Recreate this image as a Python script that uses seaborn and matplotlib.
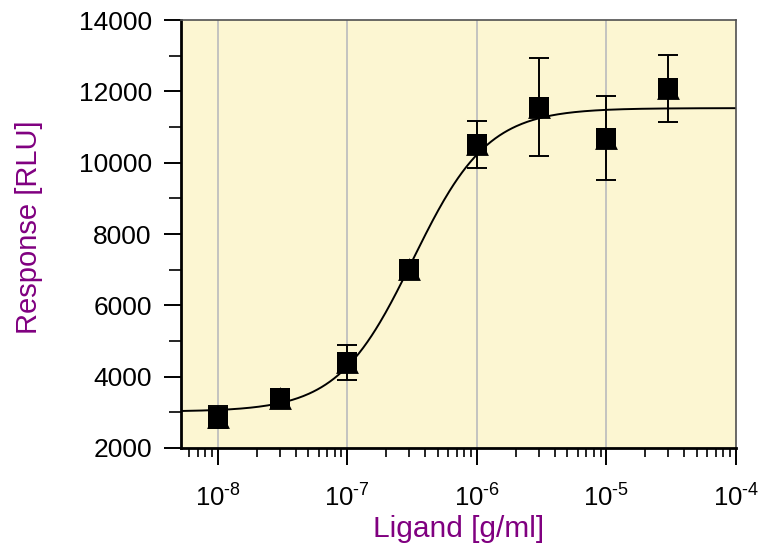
import numpy as np
import pandas as pd
import matplotlib
matplotlib.use("Agg")
import matplotlib.pyplot as plt
import matplotlib.ticker as mticker
import seaborn as sns

# Measured dose-response data
conc = [1e-8, 3e-8, 1e-7, 3e-7, 1e-6, 3e-6, 1e-5, 3e-5]
response_mean = [2880, 3400, 4400, 7020, 10520, 11560, 10690, 12090]
response_sd = [310, 80, 500, 90, 660, 1370, 1180, 940]

# Four-parameter logistic fit
fit_bottom = 3020
fit_top = 11530
fit_ec50 = 3.2e-7
fit_hill = 1.5

x_ticks = [1e-8, 1e-7, 1e-6, 1e-5, 1e-4]
x_tick_labels = ["10$^{\u20108}$", "10$^{\u20107}$", "10$^{\u20106}$",
                 "10$^{\u20105}$", "10$^{\u20104}$"]
y_ticks = [2000, 4000, 6000, 8000, 10000, 12000, 14000]

sns.set_theme(style="white")
plt.rcParams["font.family"] = ["Liberation Sans", "DejaVu Sans"]
plt.rcParams["mathtext.fontset"] = "custom"
plt.rcParams["mathtext.rm"] = "Liberation Sans"
plt.rcParams["mathtext.it"] = "Liberation Sans"
plt.rcParams["mathtext.default"] = "regular"

fig = plt.figure(figsize=(7.58, 5.47), dpi=100)
ax = fig.add_axes([0.2388, 0.181, 0.7322, 0.7824])
ax.set_facecolor("#FCF6D2")

df = pd.DataFrame({"conc": conc, "mean": response_mean, "sd": response_sd})

xs = np.logspace(np.log10(5.2e-9), -4, 400)
ys = fit_bottom + (fit_top - fit_bottom) / (1 + (fit_ec50 / xs) ** fit_hill)
curve = pd.DataFrame({"x": xs, "y": ys})

ax.set_xscale("log")
for xv in x_ticks[:-1]:
    ax.axvline(xv, color="#BFBFBF", lw=1.3, zorder=0)

sns.lineplot(data=curve, x="x", y="y", ax=ax, color="black", lw=1.4, zorder=2)
ax.errorbar(df["conc"], df["mean"], yerr=df["sd"], fmt="none", ecolor="black",
            elinewidth=1.4, capsize=7, capthick=1.4, zorder=3)
sns.scatterplot(data=df, x="conc", y="mean", ax=ax, marker="^", s=270,
                color="black", edgecolor="black", linewidth=0, zorder=4)
sns.scatterplot(data=df, x="conc", y="mean", ax=ax, marker="s", s=220,
                color="black", edgecolor="black", linewidth=0, zorder=5)

ax.set_xlim(5.2e-9, 1e-4)
ax.set_ylim(2000, 14000)
ax.set_xticks(x_ticks)
ax.set_xticklabels(x_tick_labels)
ax.xaxis.set_minor_locator(mticker.LogLocator(base=10, subs=np.arange(2, 10)))
ax.xaxis.set_minor_formatter(mticker.NullFormatter())
ax.set_yticks(y_ticks)
ax.set_yticklabels([str(v) for v in y_ticks])
ax.yaxis.set_minor_locator(mticker.MultipleLocator(1000))

ax.tick_params(axis="x", which="major", direction="out", length=12, width=1.4,
               color="black", labelcolor="black", labelsize=18.5, pad=14,
               bottom=True)
ax.tick_params(axis="x", which="minor", direction="out", length=6.5, width=1.2,
               color="black", bottom=True)
ax.tick_params(axis="y", which="major", direction="out", length=12, width=1.4,
               color="black", labelcolor="black", labelsize=19, pad=9,
               left=True)
ax.tick_params(axis="y", which="minor", direction="out", length=9, width=1.2,
               color="black", left=True)

ax.set_xlabel("Ligand [g/ml]", color="#800080", fontsize=21.5)
ax.set_ylabel("Response [RLU]", color="#800080", fontsize=21)
ax.xaxis.set_label_coords(0.5, -0.157)
ax.yaxis.set_label_coords(-0.249, 0.515)

for side in ["left", "bottom"]:
    ax.spines[side].set_color("black")
    ax.spines[side].set_linewidth(2)
for side in ["top", "right"]:
    ax.spines[side].set_color("#505050")
    ax.spines[side].set_linewidth(1.2)

fig.savefig("out.png", dpi=100)
